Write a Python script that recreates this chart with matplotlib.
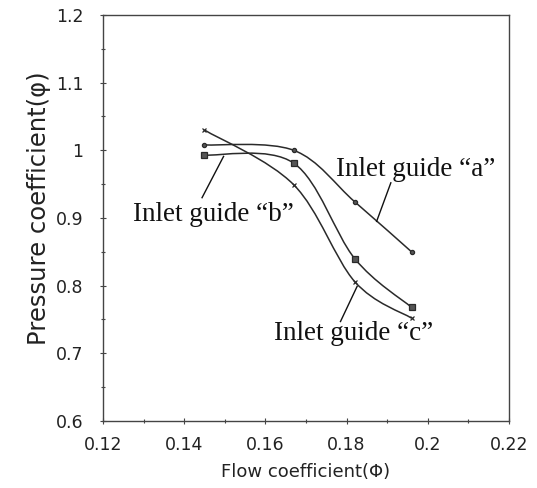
import numpy as np
import matplotlib
matplotlib.use("Agg")
import matplotlib.pyplot as plt
from matplotlib.path import Path
from matplotlib.patches import PathPatch
from matplotlib.ticker import MultipleLocator, FuncFormatter

# ---- data ----
flow = [0.145, 0.167, 0.182, 0.196]
guide_a = [1.008, 1.000, 0.924, 0.850]
guide_b = [0.993, 0.981, 0.840, 0.768]
guide_c = [1.030, 0.949, 0.806, 0.752]
x_ticks = [0.12, 0.14, 0.16, 0.18, 0.20, 0.22]
y_ticks = [0.6, 0.7, 0.8, 0.9, 1.0, 1.1, 1.2]
labels = ["Inlet guide \u201ca\u201d", "Inlet guide \u201cb\u201d", "Inlet guide \u201cc\u201d"]


def smooth_path(xs, ys, t=1/6):
    """Excel-like smoothed line as cubic Bezier path through the data points."""
    xs = np.asarray(xs, float); ys = np.asarray(ys, float)
    n = len(xs)
    verts = [(xs[0], ys[0])]
    codes = [Path.MOVETO]
    for i in range(n - 1):
        p0 = np.array([xs[max(i - 1, 0)], ys[max(i - 1, 0)]])
        p1 = np.array([xs[i], ys[i]])
        p2 = np.array([xs[i + 1], ys[i + 1]])
        p3 = np.array([xs[min(i + 2, n - 1)], ys[min(i + 2, n - 1)]])
        c1 = p1 + (p2 - p0) * t
        c2 = p2 - (p3 - p1) * t
        verts += [tuple(c1), tuple(c2), tuple(p2)]
        codes += [Path.CURVE4] * 3
    return Path(verts, codes)


fig = plt.figure(figsize=(5.37, 4.88), dpi=100)
ax = fig.add_axes([0.1918, 0.1373, 0.756, 0.832])

line_col = "#2a2a2a"
for ys, mk, ms in [(guide_a, "o", 3), (guide_b, "s", 4.5), (guide_c, "x", 3.5)]:
    ax.add_patch(PathPatch(smooth_path(flow, ys), fill=False, edgecolor=line_col, lw=1.1))
    ax.plot(flow, ys, linestyle="none", marker=mk, ms=ms, color=line_col,
            mec=line_col, mfc="#555555", mew=0.9)

ax.set_xlim(0.12, 0.22)
ax.set_ylim(0.6, 1.2)
ax.set_xticks(x_ticks)
ax.set_yticks(y_ticks)
ax.xaxis.set_minor_locator(MultipleLocator(0.01))
ax.yaxis.set_minor_locator(MultipleLocator(0.05))
fmt = FuncFormatter(lambda v, p: ("%.2f" % v).rstrip("0").rstrip("."))
ax.xaxis.set_major_formatter(fmt)
ax.yaxis.set_major_formatter(fmt)
ax.tick_params(which="both", direction="inout", length=4, width=0.8, color="#444444",
               labelsize=12.5, labelcolor="#222222")
ax.tick_params(axis="x", pad=9)
ax.tick_params(axis="y", pad=12)
ax.tick_params(which="minor", length=3)
for s in ax.spines.values():
    s.set_color("#444444")
    s.set_linewidth(1.0)

ax.set_xlabel("Flow coefficient(\u03a6)", fontsize=13, family="DejaVu Sans",
              color="#222222", labelpad=6)
ax.set_ylabel("Pressure coefficient(\u03c6)", fontsize=17.5, family="DejaVu Sans",
              color="#222222")
ax.yaxis.set_label_coords(-0.128, 0.525)

serif = "Liberation Serif"
# text anchor (left, center) and leader line (text end -> curve point)
text_pos = [(0.1775, 0.972), (0.1274, 0.905), (0.1620, 0.730)]
leaders = [((0.1909, 0.952), (0.1874, 0.895)),
           ((0.1444, 0.930), (0.1497, 0.991)),
           ((0.1785, 0.747), (0.1826, 0.799))]
for lab, (tx, ty), ((x0, y0), (x1, y1)) in zip(labels, text_pos, leaders):
    ax.text(tx, ty, lab, fontsize=19.5, family=serif, ha="left", va="center",
            color="#111111")
    ax.plot([x0, x1], [y0, y1], color="#111111", lw=1.0)

fig.savefig("out.png", dpi=100)
